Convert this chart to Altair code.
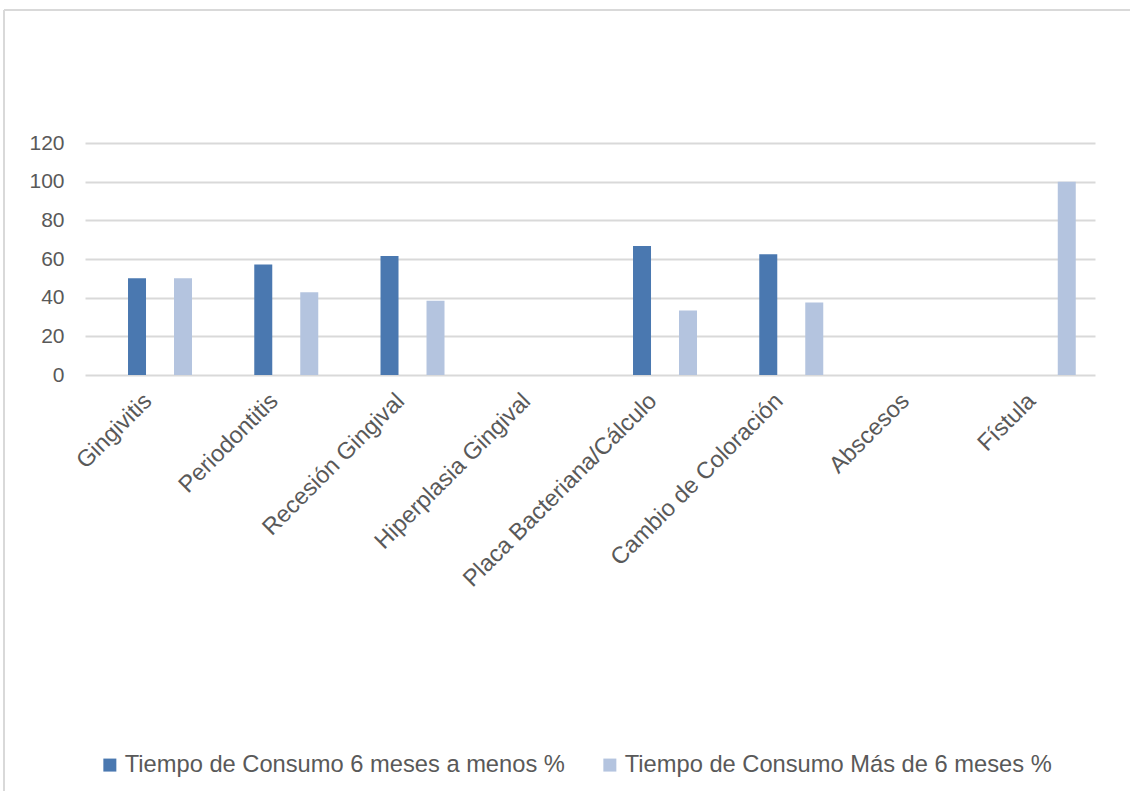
import altair as alt
import pandas as pd

# Lesiones periodontales según tiempo de consumo (%)
categorias = [
    "Gingivitis",
    "Periodontitis",
    "Recesión Gingival",
    "Hiperplasia Gingival",
    "Placa Bacteriana/Cálculo",
    "Cambio de Coloración",
    "Abscesos",
    "Fístula",
]
serie_menos_6 = [50.0, 57.14, 61.54, 0.0, 66.67, 62.5, 0.0, 0.0]
serie_mas_6 = [50.0, 42.86, 38.46, 0.0, 33.33, 37.5, 0.0, 100.0]
series = [
    "Tiempo de Consumo 6 meses a menos %",
    "Tiempo de Consumo Más de 6 meses %",
]
colores = ["#4A78B0", "#B4C4DF"]
ticks_y = [0, 20, 40, 60, 80, 100, 120]

filas = []
for cat, a, b in zip(categorias, serie_menos_6, serie_mas_6):
    filas.append({"categoria": cat, "serie": series[0], "valor": a})
    filas.append({"categoria": cat, "serie": series[1], "valor": b})
df = pd.DataFrame(filas)

FONT = "Liberation Sans"
GRIS = "#595959"
LINEA = "#D9D9D9"

barras = alt.Chart(df).mark_bar().encode(
    x=alt.X(
        "categoria:N",
        sort=categorias,
        scale=alt.Scale(paddingInner=0, paddingOuter=0),
        axis=alt.Axis(
            title=None,
            labelAngle=-45,
            labelAlign="right",
            labelBaseline="middle",
            labelFontSize=23.5,
            labelColor=GRIS,
            labelFont=FONT,
            labelPadding=22,
            labelLimit=400,
            ticks=False,
            domain=False,
            grid=False,
        ),
    ),
    xOffset=alt.XOffset(
        "serie:N",
        sort=series,
        scale=alt.Scale(paddingInner=0.6087, paddingOuter=0.6766, align=0.691),
    ),
    y=alt.Y(
        "valor:Q",
        scale=alt.Scale(domain=[0, 120], nice=False),
        axis=alt.Axis(
            title=None,
            values=ticks_y,
            labelFontSize=21,
            labelColor=GRIS,
            labelFont=FONT,
            labelPadding=21,
            ticks=False,
            domain=False,
            grid=True,
            gridColor=LINEA,
            gridWidth=1.8,
        ),
    ),
    color=alt.Color(
        "serie:N",
        sort=series,
        scale=alt.Scale(domain=series, range=colores),
        legend=alt.Legend(
            title=None,
            orient="none",
            direction="horizontal",
            legendX=13,
            legendY=610,
            symbolType="square",
            symbolSize=169,
            symbolStrokeWidth=0,
            symbolOpacity=1,
            labelFontSize=23.7,
            labelFont=FONT,
            labelColor=GRIS,
            labelOffset=3,
            labelLimit=600,
            columnPadding=33,
            padding=0,
        ),
    ),
)

# Marco del área del gráfico (borde superior e izquierdo)
marco_izq = alt.Chart(df).mark_rule(color=LINEA, strokeWidth=1.5, clip=False).encode(
    x=alt.value(-81), y=alt.value(-133), y2=alt.value(700)
)
marco_sup = alt.Chart(df).mark_rule(color=LINEA, strokeWidth=1.5, clip=False).encode(
    x=alt.value(-81), x2=alt.value(1100), y=alt.value(-133)
)

chart = (
    alt.layer(barras, marco_izq, marco_sup)
    .properties(
        width=1010,
        height=232,
        autosize=alt.AutoSizeParams(type="none"),
        padding={"left": 85, "top": 143, "right": 35, "bottom": 416},
        background="white",
    )
    .configure_view(stroke=None)
)

chart.save("out.html", embed_options={"renderer": "svg", "actions": False})
